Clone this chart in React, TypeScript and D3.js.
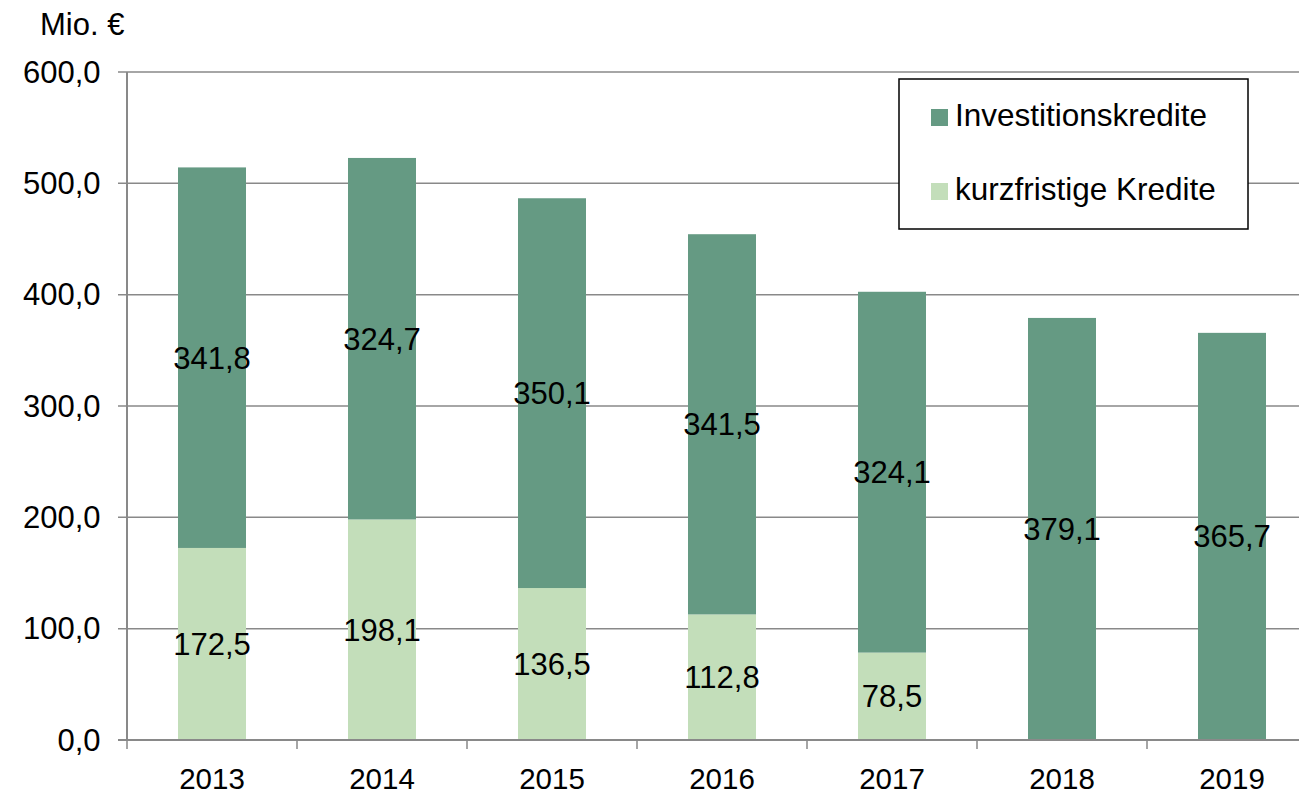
import * as d3 from 'd3';

const years = ['2013', '2014', '2015', '2016', '2017', '2018', '2019'];
const kurzfristig = [172.5, 198.1, 136.5, 112.8, 78.5, 0, 0];
const investition = [341.8, 324.7, 350.1, 341.5, 324.1, 379.1, 365.7];
const yTicks = [0, 100, 200, 300, 400, 500, 600];
const seriesNames = ['Investitionskredite', 'kurzfristige Kredite'];

const W = 1299;
const H = 794;
const FONT = '"Liberation Sans", Arial, sans-serif';
const DARK = '#659a83';
const LIGHT = '#c3deba';
const GRID = '#898989';

const fmt = (v: number) => v.toFixed(1).replace('.', ',');

const App = () => {
  const x = d3.scaleBand<string>()
    .domain(years)
    .range([127, 1317])
    .paddingInner(0.6)
    .paddingOuter(0.3);
  const y = d3.scaleLinear().domain([0, 600]).range([740, 72]);

  const rows = years.map((yr, i) => ({ year: yr, kurz: kurzfristig[i], inv: investition[i] }));
  const stacked = d3.stack<any>().keys(['kurz', 'inv'])(rows);
  const colors: Record<string, string> = { kurz: LIGHT, inv: DARK };

  const step = x.step();
  const boundaries = d3.range(years.length + 1).map(i => 127 + i * step);

  return (
    <svg width={W} height={H} style={{ position: 'absolute', left: 0, top: 0, background: '#fff' }}
      fontFamily={FONT}>
      {/* gridlines */}
      {yTicks.filter(t => t > 0).map(t => (
        <line key={t} x1={118} x2={W} y1={y(t)} y2={y(t)} stroke={GRID} strokeWidth={1.5} />
      ))}
      <line x1={118} x2={127} y1={y(0)} y2={y(0)} stroke={GRID} strokeWidth={1.5} />
      {yTicks.map(t => (
        <text key={t} x={100.5} y={y(t) + 10.5} fontSize={31} textAnchor="end" fill="#000">{fmt(t)}</text>
      ))}
      <text x={40} y={35} fontSize={31} fill="#000">Mio. €</text>

      {/* bars */}
      {stacked.map(layer => layer.map((d, i) => (
        d[1] - d[0] > 0 ? (
          <rect key={layer.key + i} x={x(years[i])} width={x.bandwidth()}
            y={y(d[1])} height={y(d[0]) - y(d[1])} fill={colors[layer.key]} />
        ) : null
      )))}

      {/* axes */}
      <line x1={127} x2={127} y1={72} y2={741} stroke={GRID} strokeWidth={2} />
      <line x1={118} x2={W} y1={740} y2={740} stroke={GRID} strokeWidth={2} />
      {boundaries.map((b, i) => (
        <line key={i} x1={b} x2={b} y1={740} y2={749} stroke={GRID} strokeWidth={1.5} />
      ))}
      {years.map(yr => (
        <text key={yr} x={x(yr)! + x.bandwidth() / 2} y={789} fontSize={29.5} textAnchor="middle" fill="#000">{yr}</text>
      ))}

      {/* value labels */}
      {stacked.map(layer => layer.map((d, i) => (
        d[1] - d[0] > 0 ? (
          <text key={'l' + layer.key + i} x={x(years[i])! + x.bandwidth() / 2}
            y={y((d[0] + d[1]) / 2) + 11} fontSize={31} textAnchor="middle" fill="#000">
            {fmt(d[1] - d[0])}
          </text>
        ) : null
      )))}

      {/* legend */}
      <rect x={899} y={79} width={349} height={150} fill="#fff" stroke="#000" strokeWidth={1.5} />
      {seriesNames.map((name, i) => (
        <g key={name}>
          <rect x={931} y={109 + i * 74} width={17} height={17} fill={i === 0 ? DARK : LIGHT} />
          <text x={955} y={126 + i * 74} fontSize={31.5} fill="#000">{name}</text>
        </g>
      ))}
    </svg>
  );
};

export default App;
